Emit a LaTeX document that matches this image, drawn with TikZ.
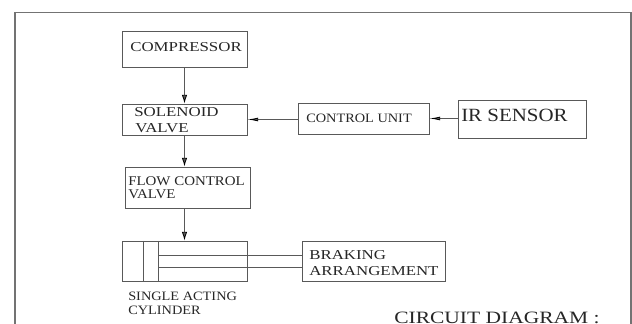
\documentclass[tikz,border=0pt]{standalone}
\usepackage{fontspec}
\setmainfont{Liberation Serif}
\newfontfamily\narrowface[FakeStretch=1.12]{Liberation Serif}
\newfontfamily\wideface[FakeStretch=1.24]{Liberation Serif}
\usetikzlibrary{arrows.meta}
\usetikzlibrary{positioning}

\tikzset{
  block/.style={draw=black!65, line width=0.6pt, minimum width=93.75pt, inner sep=0pt},
  blocktext/.style={anchor=base west, inner sep=0pt, align=left, text=black!85},
  widetext/.style={blocktext, font=\wideface\fontsize{10.2}{12}\selectfont},
  narrowtext/.style={blocktext, font=\narrowface\fontsize{9.6}{12}\selectfont},
  vert/.style={->, >={Latex[length=6.5pt, width=4pt, black]}},
  horiz/.style={->, >={Latex[length=8pt, width=2.8pt, black]}},
}

\begin{document}
\begin{tikzpicture}[x=0.75pt, y=-0.75pt]
        \useasboundingbox (0,0) rectangle (632,324);

        % frame
        \coordinate (f_1) at (15,324);
        \coordinate (f_2) at (15,12.5);
        \coordinate (f_3) at (631,12.5);
        \coordinate (f_4) at (631,324);
        \draw[black!55, line width=0.9pt] (f_1) -- (f_2) -- (f_3) -- (f_4);

        \node[block, minimum height=27pt]                       (comp)  at (184.5,49)   {};
        \node[block, minimum height=23.25pt]                    (sol)   at (184.5,119.5) {};
        \node[block, minimum width=98.25pt, minimum height=23.25pt] (ctrl)  at (363.5,118.5) {};
        \node[block, minimum width=96pt, minimum height=28.5pt] (ir)    at (522,119)    {};
        \node[block, minimum height=30.75pt]                    (flow)  at (188,187.5)  {};
        \node[block, minimum height=30pt]                       (cyl)   at (184.5,261)  {};
        \node[block, minimum width=107.25pt, minimum height=30pt] (brake) at (373.5,261) {};

        % cylinder inside
        \coordinate (p_1) at (143,241);
        \coordinate (p_2) at (143,281);
        \coordinate (p_3) at (158,241);
        \coordinate (p_4) at (158,281);
        \coordinate (r_1) at (158,255);
        \coordinate (r_2) at (302,255);
        \coordinate (r_3) at (158,267);
        \coordinate (r_4) at (302,267);
        \draw[black!65, line width=0.6pt] (p_1) -- (p_2) (p_3) -- (p_4) (r_1) -- (r_2) (r_3) -- (r_4);

        \path[black!65, line width=0.6pt]
          (comp)             edge [vert]  (sol)
          (sol.south)        edge [vert]  (sol.south |- flow.north)
          (flow.south -| cyl) edge [vert] (cyl)
          (ctrl.west |- sol) edge [horiz] (sol)
          (ir.west |- ctrl)  edge [horiz] (ctrl);

        \node[widetext]   (t_comp)  at (130,52)  {COMPRESSOR};
        \node[widetext]   (t_sol1)  at (134,117) {SOLENOID};
        \node[widetext]   (t_sol2)  at (135,133) {VALVE};
        \node[narrowtext] (t_ctrl)  at (306,123) {CONTROL UNIT};
        \node[narrowtext, font=\narrowface\fontsize{14}{16}\selectfont] (t_ir) at (461,122) {IR SENSOR};
        \node[narrowtext, font=\narrowface\fontsize{10}{12}\selectfont] (t_flow1) at (128,186) {FLOW CONTROL};
        \node[narrowtext, font=\narrowface\fontsize{10}{12}\selectfont] (t_flow2) at (128,199) {VALVE};
        \node[widetext]   (t_brk1)  at (309,259) {BRAKING};
        \node[widetext]   (t_brk2)  at (309,275) {ARRANGEMENT};
        \node[narrowtext] (t_cyl1)  at (128,300) {SINGLE ACTING};
        \node[narrowtext] (t_cyl2)  at (128,314) {CYLINDER};
        \node[widetext, font=\wideface\fontsize{13}{15}\selectfont] (t_title) at (394,323.5) {CIRCUIT DIAGRAM :};
\end{tikzpicture}
\end{document}
